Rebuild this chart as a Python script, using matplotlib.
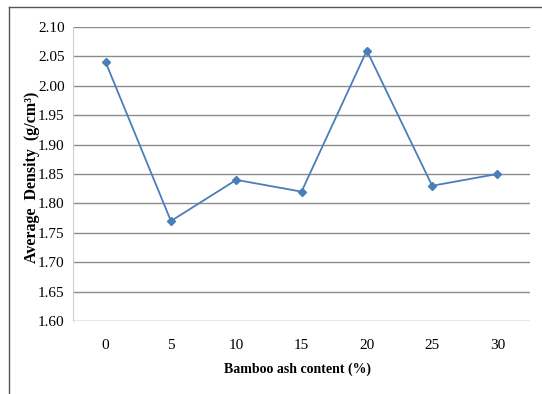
import matplotlib
matplotlib.use('Agg')
import matplotlib.pyplot as plt
from matplotlib.lines import Line2D

plt.rcParams['font.family'] = ['Liberation Serif', 'DejaVu Serif']

ash_content = ['0', '5', '10', '15', '20', '25', '30']
density = [2.04, 1.77, 1.84, 1.82, 2.06, 1.83, 1.85]
yticks = [1.60, 1.65, 1.70, 1.75, 1.80, 1.85, 1.90, 1.95, 2.00, 2.05, 2.10]

fig = plt.figure(figsize=(5.42, 3.94), dpi=100)
ax = fig.add_axes([0.1347, 0.1853, 0.8433, 0.7462])

x = range(len(ash_content))
ax.plot(x, density, color='#4a7ebb', lw=1.3, marker='D', ms=4.5,
        markerfacecolor='#4a7ebb', markeredgecolor='#4a7ebb', zorder=3)

ax.set_xlim(-0.5, len(ash_content) - 0.5)
ax.set_ylim(1.60, 2.10)
ax.set_xticks(list(x))
ax.set_xticklabels(ash_content)
ax.set_yticks(yticks)
ax.set_yticklabels(['%.2f' % v for v in yticks])
ax.tick_params(length=0, labelsize=11, colors='black')
ax.tick_params(axis='x', pad=13)
ax.tick_params(axis='y', pad=6)
ax.grid(axis='y', color='#8c8c8c', lw=1)
ax.set_axisbelow(True)
for s in ['top', 'right', 'bottom']:
    ax.spines[s].set_visible(False)
ax.spines['left'].set_color('#d0d0d0')

ax.set_xlabel('Bamboo ash content (%)', fontsize=10, fontweight='bold')
ax.set_ylabel('Average  Density  (g/cm³)', fontsize=11.5, fontweight='bold')
ax.xaxis.set_label_coords(0.492, -0.14)
ax.yaxis.set_label_coords(-0.072, 0.49)

# outer chart frame
fig.add_artist(Line2D([9 / 542, 9 / 542], [0, 1 - 7 / 394], color='#555555', lw=1))
fig.add_artist(Line2D([9 / 542, 1], [1 - 7 / 394, 1 - 7 / 394], color='#555555', lw=1))

fig.savefig('out.png', dpi=100)
